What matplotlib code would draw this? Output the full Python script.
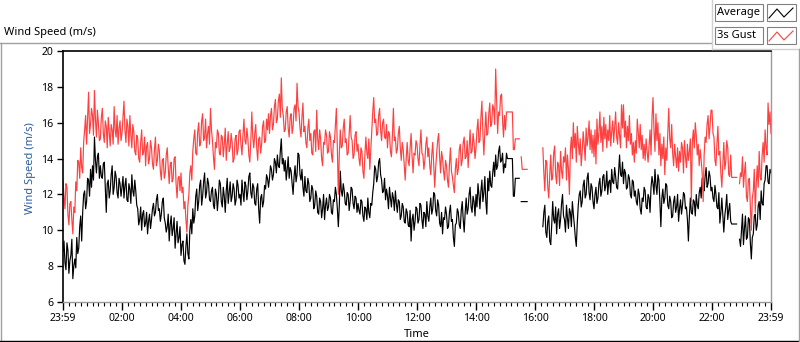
import numpy as np
import matplotlib
matplotlib.use('Agg')
import matplotlib.pyplot as plt
from matplotlib.lines import Line2D
from matplotlib.patches import Rectangle
from matplotlib.ticker import MultipleLocator

nan = float('nan')

# one value every 2 minutes, starting at 23:59 of the previous day (30 per hour)
step_minutes = 2

average = [
    8.8, 9.4, 8.2, 7.8, 9.3, 8.9, 7.6, 8.3, 8.6, 9.5, 7.3, 8.0, 8.4, 7.9, 9.6, 8.7, 9.0, 10.2, 10.8, 9.4, 11.0, 12.0, 12.2, 11.2, 11.6, 12.9, 12.8, 11.9, 13.4, 12.4,
    13.6, 12.8, 15.2, 13.9, 13.2, 14.1, 14.3, 12.9, 13.6, 13.0, 12.9, 13.7, 13.8, 12.4, 11.0, 12.6, 12.8, 11.8, 12.2, 13.1, 13.6, 12.0, 12.4, 13.3, 13.0, 12.1, 11.8, 12.9, 12.6, 11.9,
    12.4, 13.0, 11.8, 12.5, 12.9, 11.7, 11.6, 12.6, 12.3, 11.5, 13.1, 12.2, 11.9, 12.8, 12.2, 11.4, 11.2, 10.3, 10.6, 11.3, 10.0, 10.9, 11.1, 10.2, 10.4, 11.0, 9.8, 10.5, 10.9, 10.1,
    10.6, 11.2, 11.5, 10.8, 11.0, 11.7, 12.0, 11.1, 11.2, 10.5, 10.9, 11.6, 11.8, 10.7, 10.4, 9.9, 10.2, 10.9, 9.4, 10.3, 10.8, 9.7, 10.1, 10.7, 9.0, 9.8, 10.5, 9.3, 9.6, 10.2,
    8.6, 9.2, 9.4, 8.3, 8.1, 9.1, 9.8, 8.7, 8.4, 10.0, 10.6, 9.8, 11.2, 10.4, 10.8, 11.9, 12.3, 11.1, 11.6, 12.5, 12.8, 11.4, 11.9, 12.7, 13.2, 11.8, 12.1, 12.9, 12.6, 11.7,
    11.6, 12.2, 12.4, 11.4, 11.2, 12.3, 12.0, 11.1, 11.8, 12.8, 12.6, 11.6, 11.3, 12.4, 11.9, 11.0, 12.2, 12.9, 11.5, 12.1, 12.7, 11.6, 11.9, 12.6, 12.3, 11.4, 11.7, 12.8, 12.5, 11.8,
    12.0, 11.4, 12.8, 12.1, 11.6, 12.7, 12.5, 11.7, 12.2, 13.0, 13.2, 12.1, 11.8, 12.6, 12.4, 11.5, 11.4, 12.3, 12.6, 11.2, 10.4, 11.8, 12.0, 11.3, 11.6, 12.5, 12.3, 13.1, 12.9, 12.4,
    12.9, 13.6, 13.4, 12.8, 13.1, 14.0, 13.8, 13.2, 14.2, 13.6, 13.5, 14.4, 15.1, 13.7, 14.0, 13.3, 13.9, 12.8, 13.4, 14.1, 12.9, 13.5, 13.3, 12.6, 12.0, 13.0, 13.6, 12.7, 13.1, 14.3,
    14.2, 13.1, 12.8, 13.4, 12.4, 11.9, 13.0, 12.2, 12.1, 12.9, 12.6, 11.6, 11.8, 12.5, 12.3, 11.2, 11.4, 12.2, 11.9, 11.0, 10.9, 11.8, 11.6, 10.7, 11.2, 12.0, 10.6, 11.4, 11.8, 11.1,
    11.3, 12.0, 11.8, 11.0, 10.9, 11.7, 11.6, 12.4, 12.0, 11.2, 10.2, 11.4, 13.3, 12.2, 11.9, 12.6, 12.2, 11.5, 11.4, 12.1, 12.0, 11.1, 11.6, 12.4, 12.3, 11.5, 11.2, 11.9, 11.8, 11.0,
    11.5, 11.1, 10.9, 11.7, 11.6, 10.8, 10.5, 11.3, 11.2, 10.6, 11.8, 11.0, 10.7, 11.5, 11.4, 12.1, 12.6, 13.6, 13.4, 12.7, 13.0, 13.8, 14.0, 13.1, 12.8, 12.1, 12.2, 12.9, 11.7, 12.3,
    11.9, 11.2, 12.4, 11.8, 11.3, 12.1, 11.8, 11.1, 12.2, 11.5, 11.0, 11.7, 11.6, 10.6, 10.8, 11.5, 11.3, 10.5, 10.4, 11.2, 11.0, 10.3, 10.2, 11.1, 9.4, 10.6, 10.9, 10.0, 10.5, 11.3,
    11.2, 10.4, 10.6, 11.5, 11.4, 10.6, 10.1, 11.0, 10.9, 10.2, 11.6, 10.8, 10.5, 11.3, 11.8, 10.9, 11.2, 12.1, 12.0, 11.1, 10.8, 11.7, 11.4, 10.4, 10.2, 11.0, 9.8, 10.7, 10.6, 11.3,
    10.9, 10.1, 10.2, 11.0, 11.4, 10.5, 10.6, 9.6, 9.1, 10.3, 10.4, 11.2, 11.0, 10.3, 10.1, 11.1, 11.6, 10.6, 9.9, 11.0, 11.8, 10.9, 11.2, 12.0, 12.4, 11.3, 11.0, 11.9, 11.6, 10.8,
    12.0, 11.3, 12.6, 12.0, 11.2, 12.2, 12.8, 11.6, 12.1, 13.0, 11.6, 10.9, 12.9, 12.2, 13.3, 12.5, 12.4, 13.2, 13.8, 13.0, 14.2, 13.4, 13.6, 14.4, 14.7, 13.8, 13.9, 14.3, 13.2, 13.7,
    13.5, 14.3, 14.0, 14.0, 14.0, 14.0, 14.0, 14.0, 11.9, 11.9, 12.9, 12.9, 12.9, 12.9, 12.9, nan, 11.6, 11.6, 11.6, 11.6, 11.6, 11.6, 11.6, nan, nan, nan, nan, nan, nan, nan,
    nan, nan, nan, nan, nan, nan, nan, nan, 10.2, 11.0, 11.4, 9.9, 9.6, 10.5, 10.8, 9.4, 9.2, 10.3, 11.6, 10.6, 10.4, 11.3, 9.8, 10.9, 11.2, 10.1, 10.6, 11.5, 12.0, 10.8,
    10.6, 9.9, 11.4, 10.7, 10.1, 11.2, 11.0, 10.2, 11.6, 10.9, 10.3, 9.6, 9.1, 10.4, 11.4, 12.0, 12.2, 11.3, 11.6, 12.5, 12.8, 11.8, 12.0, 12.9, 13.2, 12.1, 11.7, 12.6, 12.4, 11.6,
    11.2, 12.0, 12.4, 11.5, 11.8, 12.6, 12.9, 11.9, 12.2, 13.0, 13.1, 12.2, 12.5, 13.3, 12.0, 12.7, 12.8, 12.1, 13.4, 12.7, 12.6, 13.5, 13.0, 12.4, 12.3, 13.2, 14.2, 13.1, 13.0, 13.8,
    12.6, 13.4, 13.2, 12.3, 12.4, 13.1, 12.9, 12.0, 11.8, 12.8, 12.7, 11.9, 12.2, 11.6, 11.4, 12.3, 12.0, 11.2, 10.9, 11.8, 11.6, 12.4, 12.2, 11.3, 11.2, 12.0, 11.8, 11.0, 12.4, 13.0,
    12.6, 12.0, 13.4, 12.5, 12.0, 13.1, 12.8, 11.6, 10.2, 11.8, 12.3, 11.5, 11.8, 12.6, 12.5, 11.4, 11.2, 11.9, 11.6, 10.7, 10.8, 11.6, 11.9, 11.0, 11.3, 12.0, 10.5, 11.2, 11.7, 10.9,
    11.4, 12.1, 12.0, 11.2, 11.3, 10.6, 9.4, 10.8, 11.8, 11.0, 10.9, 11.7, 11.6, 10.8, 12.0, 11.4, 11.2, 12.1, 12.4, 11.8, 12.9, 12.3, 12.2, 13.0, 13.5, 12.4, 12.6, 13.3, 13.0, 12.2,
    12.4, 11.8, 11.6, 12.5, 12.0, 11.3, 11.2, 12.1, 10.4, 11.0, 11.8, 10.9, 9.9, 10.8, 11.3, 12.0, 10.6, 11.1, 11.5, 10.5, 10.35, 10.35, 10.35, 10.35, 10.35, 10.35, nan, nan, 9.5, 9.1,
    10.0, 10.9, 9.2, 10.1, 10.8, 9.5, 9.6, 10.7, 10.6, 9.3, 8.4, 9.6, 9.8, 10.8, 10.9, 10.0, 10.3, 11.4, 11.6, 10.6, 12.2, 11.5, 11.4, 12.6, 12.8, 13.6, 13.6, 12.7, 12.6, 13.4,
    13.2,
]

gust = [
    12.8, 11.9, 11.2, 12.6, 12.4, 10.9, 10.3, 11.5, 11.6, 10.6, 9.8, 11.3, 11.0, 12.7, 12.2, 13.9, 13.8, 12.9, 14.6, 13.5, 13.2, 14.9, 15.6, 16.4, 14.8, 16.2, 17.7, 15.4, 15.9, 16.8,
    16.4, 15.3, 17.8, 16.2, 15.2, 16.7, 16.0, 15.0, 15.1, 16.3, 16.8, 15.4, 14.9, 16.1, 15.8, 14.6, 16.3, 15.5, 14.7, 15.9, 15.6, 14.8, 16.9, 15.6, 15.2, 16.4, 14.8, 15.7, 16.1, 15.0,
    15.4, 16.3, 17.2, 15.6, 14.9, 16.2, 15.8, 14.7, 16.4, 15.3, 14.6, 15.9, 15.5, 14.4, 14.2, 15.3, 15.1, 14.0, 13.8, 14.9, 15.6, 14.2, 14.4, 15.2, 13.6, 14.7, 14.9, 13.7, 14.0, 15.0,
    14.6, 13.7, 13.4, 14.5, 15.2, 13.6, 13.9, 14.8, 14.4, 13.3, 12.8, 13.9, 14.0, 12.9, 13.2, 14.2, 14.6, 13.5, 12.6, 13.6, 13.8, 12.7, 12.9, 14.0, 14.1, 12.6, 11.8, 12.9, 13.0, 12.2,
    13.2, 12.1, 12.4, 11.2, 11.6, 10.6, 9.9, 11.4, 12.0, 13.2, 13.6, 12.8, 14.4, 15.1, 15.6, 14.3, 14.2, 15.5, 16.0, 14.7, 14.9, 16.1, 16.5, 15.0, 15.2, 16.2, 14.6, 15.4, 15.8, 14.8,
    16.8, 15.6, 15.0, 14.1, 13.4, 14.9, 14.6, 15.6, 15.4, 14.3, 14.2, 15.3, 15.2, 14.1, 14.8, 15.7, 13.9, 14.8, 15.5, 14.4, 14.6, 15.4, 14.9, 13.8, 14.0, 15.1, 15.3, 14.2, 14.5, 15.5,
    15.6, 14.8, 14.2, 15.3, 16.2, 15.0, 14.8, 15.7, 15.1, 14.2, 13.8, 15.0, 16.6, 15.2, 14.6, 15.4, 15.9, 14.6, 13.9, 15.1, 15.2, 14.3, 14.8, 15.8, 16.1, 14.9, 15.0, 16.2, 15.6, 16.5,
    15.4, 16.4, 16.8, 15.6, 15.9, 16.9, 17.3, 16.0, 16.2, 17.2, 17.6, 16.3, 18.5, 16.8, 16.4, 15.5, 15.6, 16.6, 16.9, 15.7, 15.2, 16.3, 16.5, 15.4, 15.8, 16.8, 17.0, 16.1, 18.2, 16.9,
    16.6, 15.7, 15.2, 16.3, 17.1, 15.5, 15.8, 14.9, 14.6, 15.7, 16.2, 15.0, 15.4, 14.3, 14.2, 15.5, 15.6, 14.4, 16.7, 15.1, 14.5, 15.6, 15.1, 14.0, 13.6, 14.9, 14.8, 15.6, 15.3, 14.3,
    14.4, 15.5, 15.2, 14.2, 13.8, 15.0, 14.9, 15.8, 16.8, 14.6, 12.0, 14.3, 15.6, 14.6, 14.7, 15.7, 16.2, 14.9, 15.1, 14.2, 14.3, 15.4, 16.4, 15.2, 15.0, 14.0, 14.2, 15.3, 15.5, 14.4,
    14.8, 14.0, 13.6, 14.6, 14.4, 13.3, 12.9, 14.2, 15.2, 14.3, 14.0, 15.1, 13.4, 14.5, 15.6, 16.6, 17.4, 16.0, 16.2, 15.3, 15.4, 16.4, 16.8, 15.6, 15.0, 16.0, 16.2, 15.2, 15.1, 15.9,
    14.6, 15.5, 15.4, 14.4, 14.1, 15.3, 16.8, 15.0, 15.2, 14.3, 14.5, 15.4, 15.8, 14.6, 13.9, 14.9, 14.5, 13.6, 12.8, 14.0, 14.9, 13.9, 13.6, 14.6, 15.4, 14.1, 13.2, 14.3, 14.2, 15.0,
    14.8, 14.0, 13.6, 14.7, 15.6, 14.3, 14.2, 13.4, 13.9, 14.8, 15.2, 14.1, 14.6, 13.6, 13.1, 14.2, 14.9, 13.7, 12.4, 13.5, 14.3, 15.0, 15.4, 14.1, 13.2, 14.4, 14.0, 13.3, 12.8, 13.9,
    13.6, 12.8, 12.4, 13.7, 14.6, 13.3, 13.0, 12.5, 12.1, 13.4, 14.0, 13.1, 13.4, 14.5, 14.8, 13.6, 13.9, 14.9, 15.2, 14.0, 14.1, 15.0, 13.5, 14.6, 15.6, 14.3, 14.4, 15.4, 14.9, 14.0,
    14.6, 15.6, 16.2, 14.9, 15.0, 16.3, 17.2, 15.4, 14.2, 15.5, 16.6, 15.3, 15.4, 16.5, 17.1, 15.8, 16.0, 17.0, 16.8, 15.9, 19.0, 17.2, 15.4, 16.6, 16.4, 17.5, 17.6, 16.1, 15.2, 16.4,
    15.6, 16.6, 16.6, 16.6, 16.6, 16.6, 16.6, 16.6, 14.5, 14.5, 15.1, 15.1, 15.1, 15.1, 15.1, nan, 14.1, 13.4, 13.4, 13.4, 13.4, 13.4, 13.4, nan, nan, nan, nan, nan, nan, nan,
    nan, nan, nan, nan, nan, nan, nan, nan, 14.6, 13.2, 12.2, 13.9, 13.8, 12.4, 11.8, 13.1, 14.2, 12.8, 13.0, 14.3, 14.7, 13.1, 12.6, 13.8, 13.6, 12.5, 14.4, 13.3, 12.9, 14.1,
    13.8, 14.6, 12.8, 14.2, 13.4, 12.0, 14.5, 15.2, 14.0, 16.0, 14.6, 15.4, 13.8, 15.8, 14.9, 14.2, 15.1, 13.6, 14.4, 15.5, 14.8, 13.9, 15.7, 14.7, 15.2, 16.1, 14.5, 15.6, 14.3, 15.3,
    14.1, 15.6, 13.7, 16.2, 14.8, 15.4, 16.6, 14.9, 15.8, 14.4, 16.3, 15.1, 15.9, 14.6, 15.6, 15.0, 16.4, 14.7, 15.5, 16.1, 14.9, 15.8, 16.6, 15.2, 14.8, 16.0, 15.3, 14.6, 17.0, 15.7,
    17.0, 15.2, 16.1, 14.6, 15.8, 15.0, 16.4, 14.8, 15.4, 14.2, 14.9, 13.8, 15.0, 14.3, 16.2, 15.5, 14.6, 15.9, 14.5, 15.3, 14.0, 14.8, 13.9, 15.1, 14.4, 13.8, 14.7, 15.6, 14.2, 16.3,
    17.4, 15.6, 14.4, 16.5, 15.0, 16.0, 14.2, 15.4, 13.6, 14.8, 14.0, 15.2, 13.1, 14.6, 13.9, 15.4, 16.8, 15.1, 14.6, 15.9, 14.3, 13.6, 14.8, 14.1, 13.5, 14.6, 13.3, 14.4, 13.8, 14.9,
    14.6, 13.2, 15.0, 14.1, 13.5, 14.8, 13.9, 14.4, 15.1, 11.6, 14.9, 15.6, 14.6, 16.0, 15.3, 14.2, 14.8, 13.6, 14.5, 13.9, 13.2, 11.6, 14.2, 15.2, 14.9, 15.9, 16.4, 15.1, 15.8, 16.7,
    16.7, 15.4, 15.2, 13.9, 13.6, 14.8, 15.8, 14.2, 14.4, 13.2, 12.4, 13.6, 14.9, 13.4, 13.8, 15.0, 14.6, 13.1, 13.0, 14.2, 12.95, 12.95, 12.95, 12.95, 12.95, 12.95, nan, nan, 12.6, 13.2,
    13.0, 14.1, 12.4, 13.2, 13.8, 11.9, 11.6, 12.8, 12.9, 11.3, 10.0, 11.8, 12.2, 13.4, 11.0, 12.6, 13.6, 12.4, 14.4, 13.0, 12.8, 14.2, 14.9, 13.8, 15.6, 14.6, 14.2, 17.1, 15.9, 16.6,
    15.4,
]

series_names = ['Average', '3s Gust']
series_colors = ['#000000', '#FF4040']
x_tick_hours = list(range(0, 25, 2))
x_tick_labels = ['23:59', '02:00', '04:00', '06:00', '08:00', '10:00', '12:00',
                 '14:00', '16:00', '18:00', '20:00', '22:00', '23:59']
y_ticks = [6, 8, 10, 12, 14, 16, 18, 20]

hours = np.arange(len(average)) * step_minutes / 60.0

plt.rcParams['font.family'] = ['Noto Sans', 'DejaVu Sans']
W, H = 800, 342
fig = plt.figure(figsize=(W / 100, H / 100), dpi=100)


def fx(px):
    return px / W


def fy(py):
    return 1 - py / H


ax = fig.add_axes([fx(63), fy(302), 708 / W, 251 / H])
ax.plot(hours, average, color=series_colors[0], lw=0.85)
ax.plot(hours, gust, color=series_colors[1], lw=0.85)

ax.set_xlim(0, 24)
ax.set_ylim(6, 20)
ax.set_xticks(x_tick_hours)
ax.set_xticklabels(x_tick_labels)
ax.xaxis.set_minor_locator(MultipleLocator(0.2))
ax.set_yticks(y_ticks)
ax.tick_params(axis='x', which='major', direction='out', length=6, width=1, pad=2,
               labelsize=7.5, colors='#000000')
ax.tick_params(axis='x', which='minor', direction='out', length=3, width=0.8)
ax.tick_params(axis='y', which='major', direction='out', length=4, width=1, pad=3,
               labelsize=7.5)
for side in ['left', 'top']:
    ax.spines[side].set_color('black')
    ax.spines[side].set_linewidth(1.2)
for side in ['right', 'bottom']:
    ax.spines[side].set_color('#9A9A9A')
    ax.spines[side].set_linewidth(1.0)

ax.set_ylabel('Wind Speed (m/s)', fontsize=8, color='#2F5C9E', va='center')
ax.yaxis.set_label_coords((31 - 63) / 708, (302 - 168) / 251)
ax.set_xlabel('Time', fontsize=8, va='center')
ax.xaxis.set_label_coords(0.5, (302 - 334.5) / 251)

# chart title
fig.text(fx(4), fy(32), 'Wind Speed (m/s)', fontsize=8, ha='left', va='center')

# outer frame
grey = '#A0A0A0'
frame = [
    ([0, 711], [42.5, 42.5], grey),
    ([0.5, 0.5], [42.5, 341], grey),
    ([0, 800], [340.5, 340.5], '#000000'),
    ([711.5, 711.5], [0, 49], '#D0D0D0'),
    ([711.5, 799], [49, 49], '#D0D0D0'),
    ([798.5, 798.5], [49, 341], grey),
]
for xs, ys, c in frame:
    fig.add_artist(Line2D([fx(v) for v in xs], [fy(v) for v in ys], color=c, lw=1.0,
                          transform=fig.transFigure))

# legend
for i, (name, col) in enumerate(zip(series_names, series_colors)):
    top = 4 + 23 * i
    fig.add_artist(Rectangle((fx(715), fy(top + 17)), 48 / W, 17 / H, facecolor='white',
                             edgecolor='#808080', lw=0.8, transform=fig.transFigure))
    fig.add_artist(Rectangle((fx(767), fy(top + 17)), 29 / W, 17 / H, facecolor='white',
                             edgecolor='#808080', lw=0.8, transform=fig.transFigure))
    fig.text(fx(717), fy(top + 8.5), name, fontsize=8, ha='left', va='center')
    zx = [769, 777, 784, 793]
    zy = [top + 14, top + 5, top + 13, top + 4]
    fig.add_artist(Line2D([fx(v) for v in zx], [fy(v) for v in zy], color=col, lw=0.8,
                          transform=fig.transFigure))

fig.savefig('out.png', dpi=100)
